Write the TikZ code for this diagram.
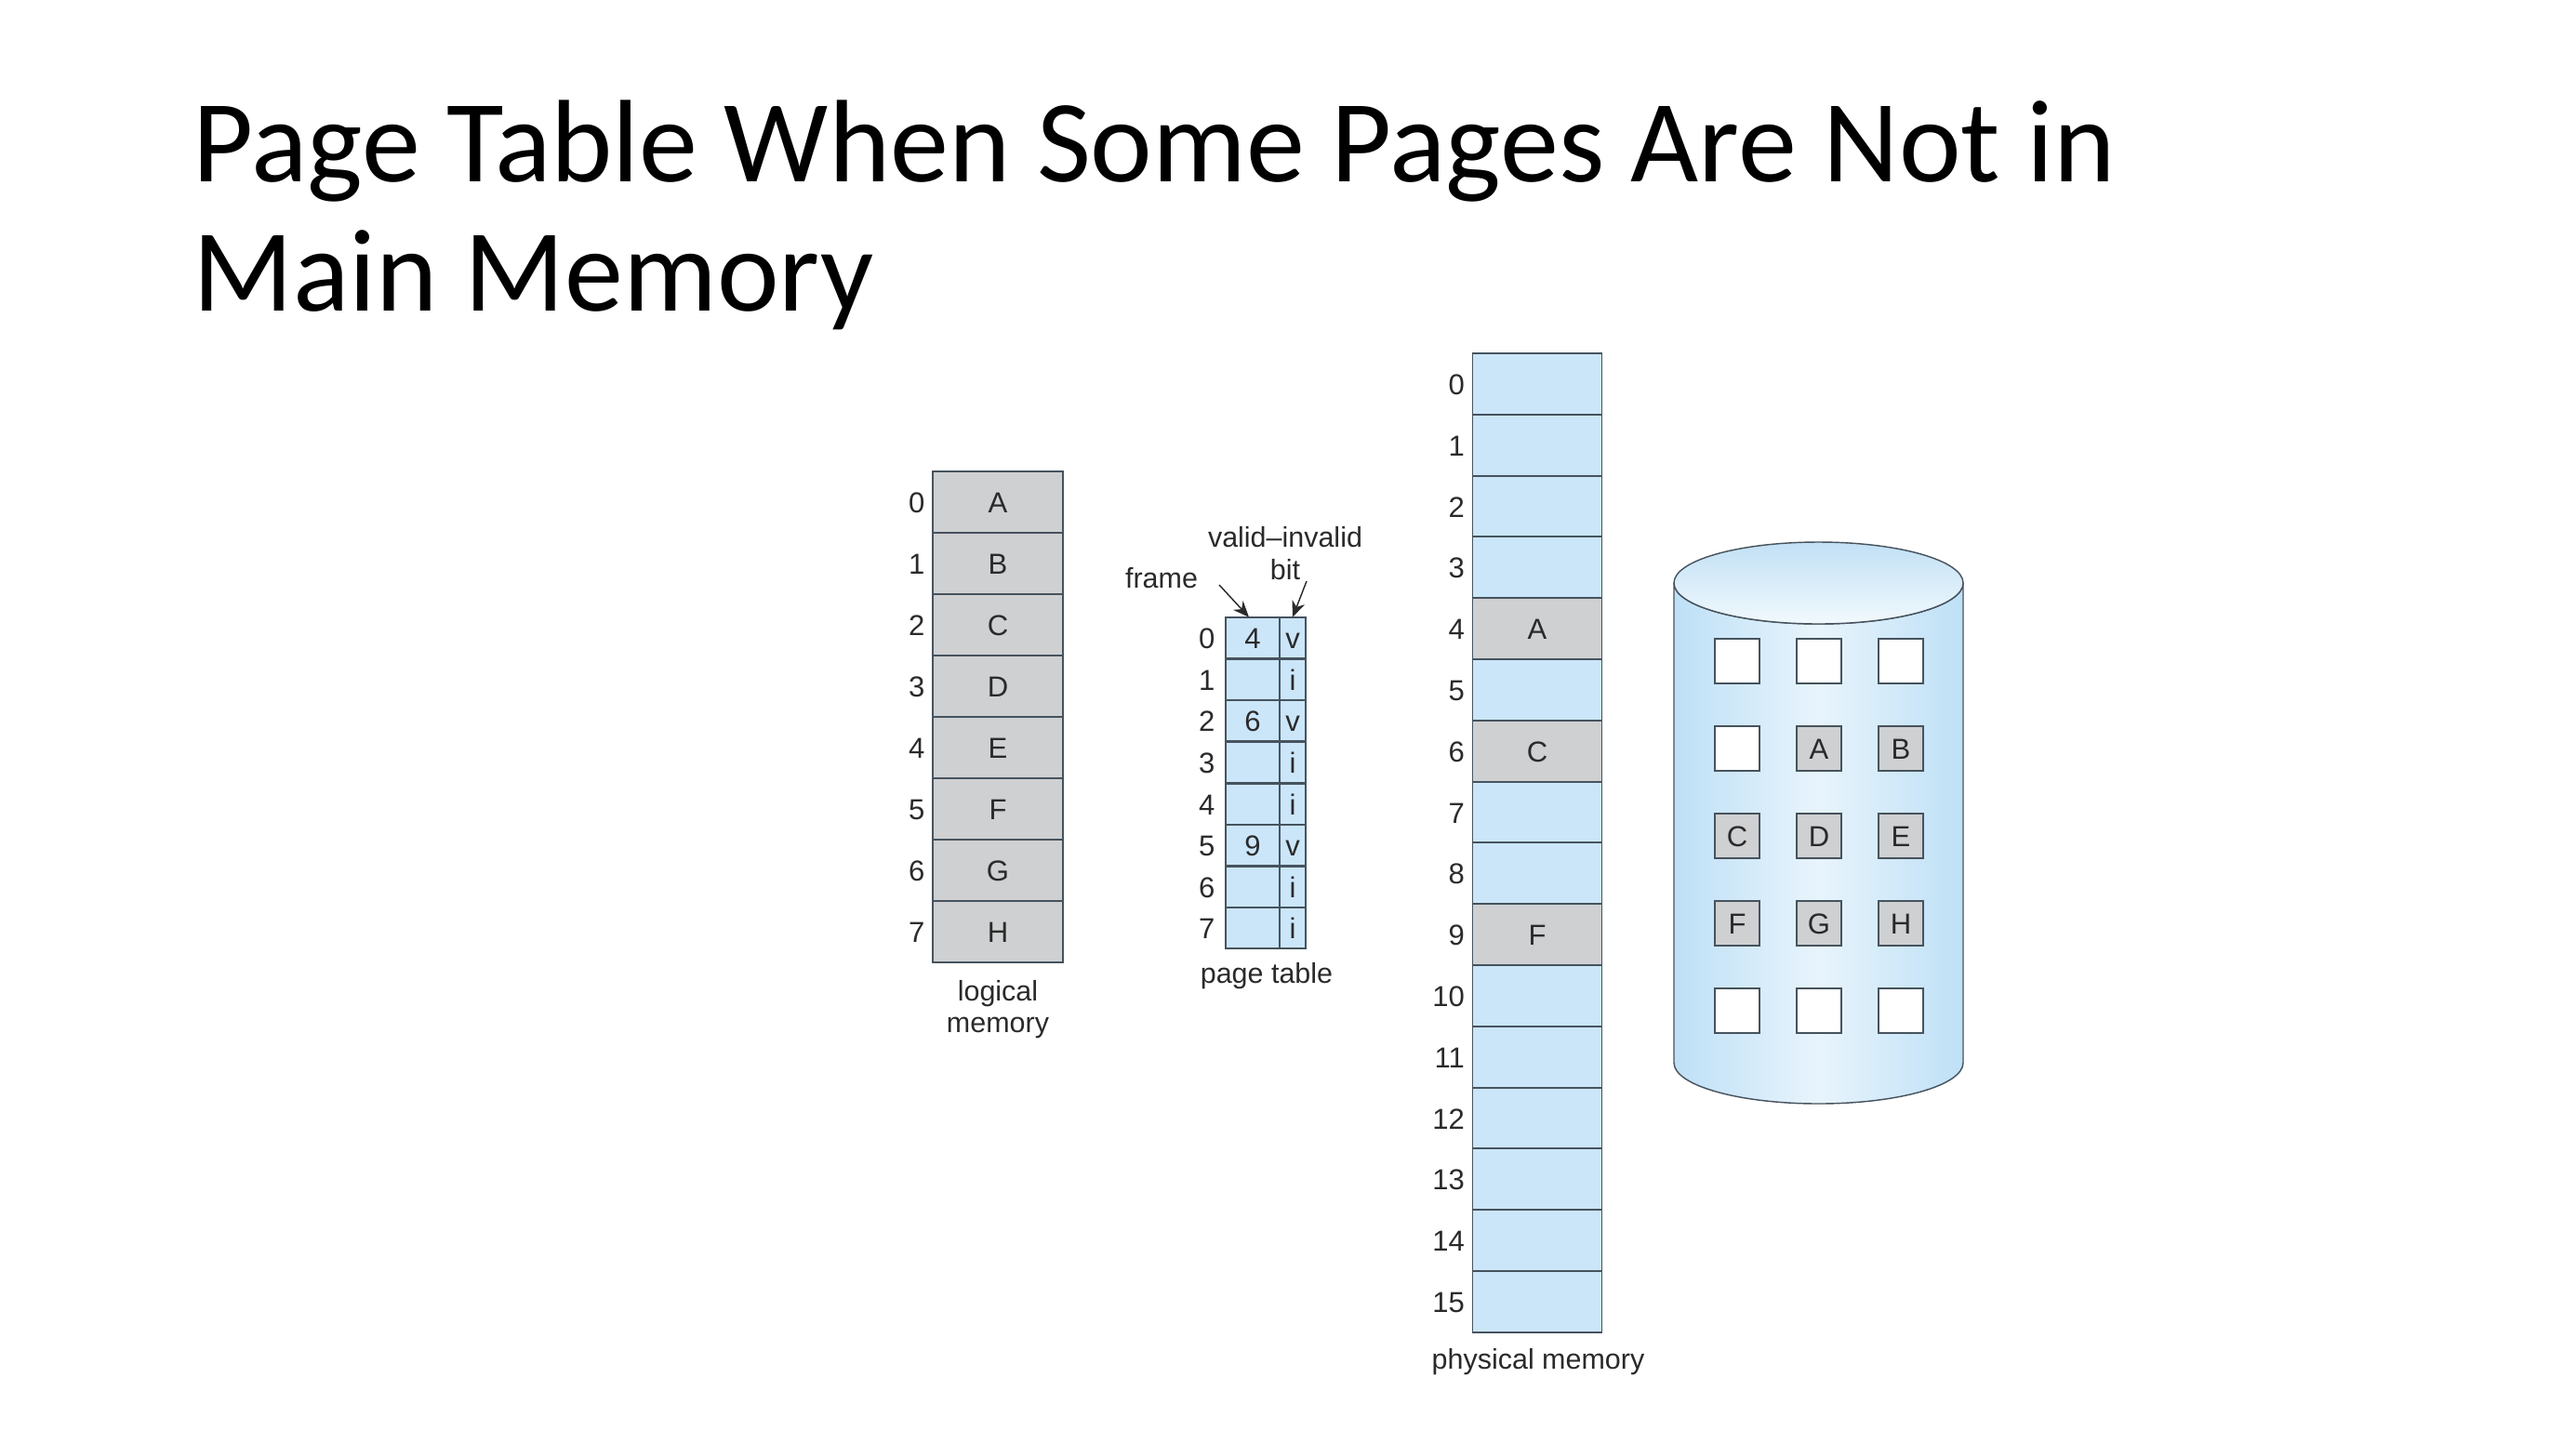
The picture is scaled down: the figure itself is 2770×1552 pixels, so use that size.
\documentclass[tikz,border=0pt]{standalone}
\usepackage{xcolor}
\usepackage{fontspec}
\usetikzlibrary{positioning}
\usetikzlibrary{arrows.meta}
\setmainfont{Liberation Sans}
\newfontfamily\headfont{Carlito}
\newlength\pxu
\setlength\pxu{0.34787pt}
\definecolor{cellblue}{HTML}{CBE6F9}
\definecolor{cellgray}{HTML}{CFD0D2}
\definecolor{edgegray}{HTML}{46535E}
\definecolor{inkgray}{HTML}{2A2A2A}
\definecolor{drumedge}{HTML}{BEE0F6}
\definecolor{drummid}{HTML}{E8F4FC}
\definecolor{lidtop}{HTML}{C2E0F5}
\definecolor{lidlow}{HTML}{F1F9FD}
\tikzset{
  memcell/.style={%
    draw=edgegray,
    line width=0.6pt,
    rectangle,
    inner sep=0,
    outer sep=0,
    minimum width=#1,
    text=inkgray,
    text height=1.55ex,
    text depth=0pt,
    font=\fontsize{10.8}{13}\selectfont,
  },
  lmcell/.style={memcell=140\pxu,minimum height=66\pxu,fill=cellgray},
  frameblue/.style={memcell=139\pxu,minimum height=65.8\pxu,fill=cellblue},
  framegray/.style={memcell=139\pxu,minimum height=65.8\pxu,fill=cellgray},
  ptframe/.style={memcell=58\pxu,minimum height=44.6\pxu,fill=cellblue},
  ptbit/.style={memcell=28\pxu,minimum height=44.6\pxu,fill=cellblue},
  slotfree/.style={memcell=48\pxu,minimum height=48\pxu,fill=white},
  slotused/.style={memcell=48\pxu,minimum height=48\pxu,fill=cellgray},
  idxlabel/.style={
    inner sep=0,
    text=inkgray,
    text height=1.55ex,
    text depth=0pt,
    font=\fontsize{10.8}{13}\selectfont,
  },
  caption/.style={
    inner sep=0,
    align=center,
    text=inkgray,
    font=\fontsize{10.6}{11.9}\selectfont,
  },
  ptr/.style={-{Stealth[length=6pt,width=5pt]},draw=inkgray,line width=0.5pt},
}
\newcommand\MemCell[6]{% name, style, position, gap to the index, index, letter
  \node (#1) [#2] at (#3) {#6};
  \node (#1idx) [idxlabel,left=#4\pxu of #1] {#5};
}
\newcommand\PageRow[4]{% row, y, frame number, bit
  \MemCell{pf#1}{ptframe}{1347,#2}{11}{#1}{#3}
  \node (pv#1) [ptbit] at (1390,#2) {#4};
}
\begin{document}
\begin{tikzpicture}[x=1\pxu,y=-1\pxu]
    \useasboundingbox (0,0) rectangle (2770,1552);
    \node (title) [anchor=north west,inner sep=0,align=left,
        font=\headfont\fontsize{43.9}{48.3}\selectfont] at (207,107)
        {Page Table When Some Pages Are Not in\\Main Memory};
    % logical memory
    \MemCell{lm0}{lmcell}{1073,540}{8}{0}{A}
    \MemCell{lm1}{lmcell}{1073,606}{8}{1}{B}
    \MemCell{lm2}{lmcell}{1073,672}{8}{2}{C}
    \MemCell{lm3}{lmcell}{1073,738}{8}{3}{D}
    \MemCell{lm4}{lmcell}{1073,804}{8}{4}{E}
    \MemCell{lm5}{lmcell}{1073,870}{8}{5}{F}
    \MemCell{lm6}{lmcell}{1073,936}{8}{6}{G}
    \MemCell{lm7}{lmcell}{1073,1002}{8}{7}{H}
    \node (lmcap) [caption,below=19\pxu of lm7] {logical\\memory};
    % page table
    \PageRow{0}{686}{4}{v}
    \PageRow{1}{731}{}{i}
    \PageRow{2}{775}{6}{v}
    \PageRow{3}{820}{}{i}
    \PageRow{4}{865}{}{i}
    \PageRow{5}{909}{9}{v}
    \PageRow{6}{954}{}{i}
    \PageRow{7}{998}{}{i}
    \node (ptcap) [caption] at (1362,1050) {page table};
    \node (frame) [caption] at (1249,622) {frame};
    \node (vibit) [caption] at (1382,595) {valid--invalid\\bit};
    \coordinate (frametail) at (1311,629);
    \coordinate (vibittail) at (1405,625);
    \draw [ptr] (frametail) -- ([xshift=-4\pxu]pf0.north);
    \draw [ptr] (vibittail) -- (pv0.north);
    % physical memory
    \MemCell{pm0}{frameblue}{1653,413}{8}{0}{}
    \MemCell{pm1}{frameblue}{1653,479}{8}{1}{}
    \MemCell{pm2}{frameblue}{1653,545}{8}{2}{}
    \MemCell{pm3}{frameblue}{1653,610}{8}{3}{}
    \MemCell{pm4}{framegray}{1653,676}{8}{4}{A}
    \MemCell{pm5}{frameblue}{1653,742}{8}{5}{}
    \MemCell{pm6}{framegray}{1653,808}{8}{6}{C}
    \MemCell{pm7}{frameblue}{1653,874}{8}{7}{}
    \MemCell{pm8}{frameblue}{1653,939}{8}{8}{}
    \MemCell{pm9}{framegray}{1653,1005}{8}{9}{F}
    \MemCell{pm10}{frameblue}{1653,1071}{8}{10}{}
    \MemCell{pm11}{frameblue}{1653,1137}{8}{11}{}
    \MemCell{pm12}{frameblue}{1653,1203}{8}{12}{}
    \MemCell{pm13}{frameblue}{1653,1268}{8}{13}{}
    \MemCell{pm14}{frameblue}{1653,1334}{8}{14}{}
    \MemCell{pm15}{frameblue}{1653,1400}{8}{15}{}
    \node (pmcap) [caption] at (1654,1465) {physical memory};
    % backing store
    \shadedraw [draw=edgegray,line width=0.5pt,left color=drumedge,right color=drumedge,
        middle color=drummid]
        (1800,627) -- (1800,1143) arc [start angle=180,end angle=0,x radius=155.5,y radius=44]
        -- (2111,627) arc [start angle=0,end angle=180,x radius=155.5,y radius=44] -- cycle;
    \shadedraw [draw=edgegray,line width=0.5pt,top color=lidtop,bottom color=lidlow]
        (1955.5,627) ellipse [x radius=155.5,y radius=44];
    \node (d00) [slotfree] at (1868,711) {};
    \node (d01) [slotfree] at (1956,711) {};
    \node (d02) [slotfree] at (2044,711) {};
    \node (d10) [slotfree] at (1868,805) {};
    \node (d11) [slotused] at (1956,805) {A};
    \node (d12) [slotused] at (2044,805) {B};
    \node (d20) [slotused] at (1868,899) {C};
    \node (d21) [slotused] at (1956,899) {D};
    \node (d22) [slotused] at (2044,899) {E};
    \node (d30) [slotused] at (1868,993) {F};
    \node (d31) [slotused] at (1956,993) {G};
    \node (d32) [slotused] at (2044,993) {H};
    \node (d40) [slotfree] at (1868,1087) {};
    \node (d41) [slotfree] at (1956,1087) {};
    \node (d42) [slotfree] at (2044,1087) {};
\end{tikzpicture}
\end{document}
